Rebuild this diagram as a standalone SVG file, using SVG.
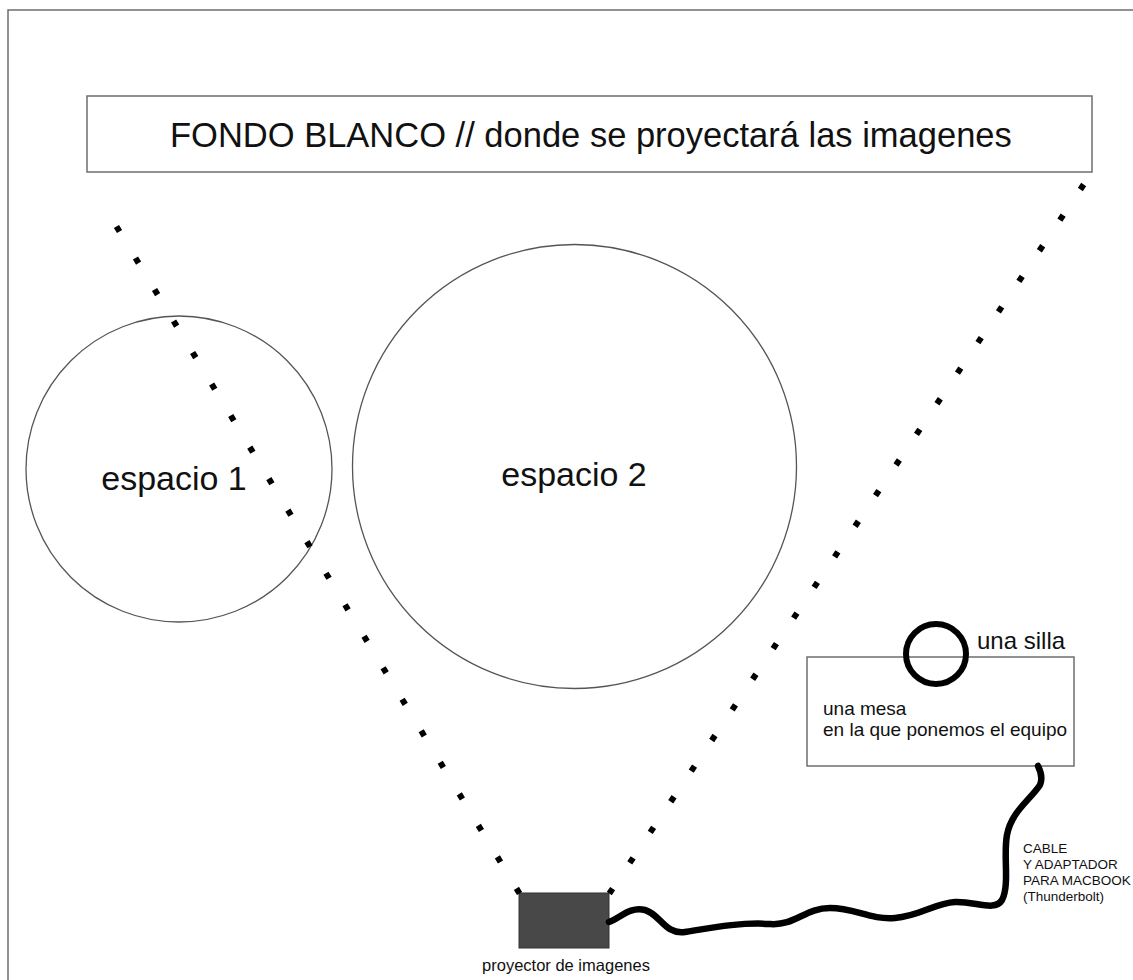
<svg xmlns="http://www.w3.org/2000/svg" width="1133" height="980" viewBox="0 0 1133 980">
<style>
.t{font-family:"Liberation Sans",Arial,sans-serif;fill:#111}
.box{fill:none;stroke:#6e6e6e;stroke-width:1.5}
.circ{fill:none;stroke:#555;stroke-width:1.3}
.dots{fill:none;stroke:#000;stroke-width:6;stroke-dasharray:6 30.83}
.cable{fill:none;stroke:#000;stroke-width:6.5;stroke-linecap:round;stroke-linejoin:round}
</style>
<rect width="1133" height="980" fill="#fff"/>
<rect x="8" y="10" width="1200" height="1000" class="box" stroke="#555"/>
<g id="fondo">
<rect x="87" y="96" width="1005" height="76" class="box"/>
<text class="t" x="170" y="147" font-size="34.5">FONDO BLANCO // donde se proyectará las imagenes</text>
</g>
<g id="espacio1">
<circle cx="179" cy="469" r="153" class="circ"/>
<text class="t" x="174" y="490" font-size="34" text-anchor="middle">espacio 1</text>
</g>
<g id="espacio2">
<circle cx="574.5" cy="466.5" r="222" class="circ"/>
<text class="t" x="574" y="486" font-size="34" text-anchor="middle">espacio 2</text>
</g>
<g id="mesa">
<rect x="807" y="657" width="267" height="109" class="box"/>
<text class="t" x="823" y="715" font-size="19">una mesa</text>
<text class="t" x="823" y="736" font-size="19">en la que ponemos el equipo</text>
</g>
<g id="silla">
<circle cx="936" cy="654" r="30" fill="none" stroke="#000" stroke-width="6"/>
<text class="t" x="977" y="649" font-size="24">una silla</text>
</g>
<g id="proyector">
<rect x="519" y="893" width="90" height="55" fill="#484848" stroke="#333" stroke-width="1"/>
<text class="t" x="566" y="971" font-size="16.5" text-anchor="middle">proyector de imagenes</text>
</g>
<g id="connectors">
<line class="dots" x1="116.45" y1="226.43" x2="519.55" y2="893.57"/>
<line class="dots" x1="1083.67" y1="184.51" x2="609.33" y2="893.49"/>
<path class="cable" d="M609,922 C620,918 630,906 645,910 C660,914 665,935 685,932 C710,928 740,922 770,924 C795,926 805,908 830,908 C855,908 870,920 895,918 C920,916 935,903 955,902 C975,901 995,912 1002,900 C1010,885 1003,855 1007,835 C1011,812 1030,800 1040,785 C1043,778 1040,770 1038,766"/>
</g>
<g id="cable-label">
<text class="t" x="1023" y="853" font-size="13.5">CABLE</text>
<text class="t" x="1023" y="869" font-size="13.5">Y ADAPTADOR</text>
<text class="t" x="1023" y="885" font-size="13.5">PARA MACBOOK</text>
<text class="t" x="1023" y="901" font-size="13.5">(Thunderbolt)</text>
</g>
</svg>
